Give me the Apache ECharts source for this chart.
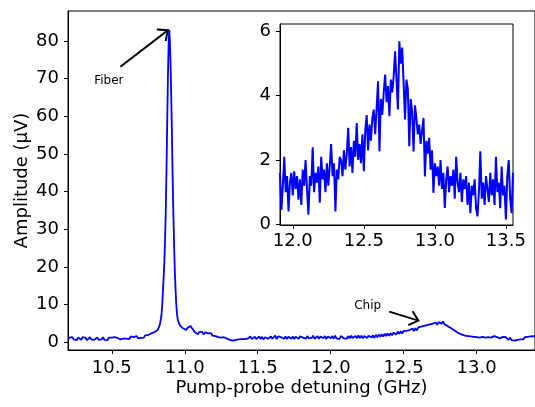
<!DOCTYPE html>
<html><head><meta charset="utf-8">
<script src="https://cdn.jsdelivr.net/npm/echarts@6/dist/echarts.min.js"></script>
<style>html,body{margin:0;padding:0;background:#fff}#c{width:535px;height:407px}</style>
</head><body><div id="c"></div>
<script>
// ---- Main trace: left baseline, sampled every 0.01 GHz from 10.20 GHz
const leftStartGHz = 10.20;
const leftStepGHz = 0.01;
const leftAmp = [
  0.6, 1.2, 0.8, 1.3, 0.7, 1.1, 0.5, 1.2, 0.9, 0.6,
  1.3, 0.8, 1.1, 0.5, 1.0, 1.3, 0.7, 1.2, 0.6, 0.9,
  1.2, 0.6, 1.0, 0.7, 1.3, 0.6, 1.1, 0.5, 1.2, 0.8,
  1.2, 0.7, 1.3, 0.8, 1.1, 1.4, 0.7, 1.2, 0.9, 1.3,
  0.9, 1.4, 0.8, 1.5, 1.0, 1.3, 0.9, 1.6, 1.0, 1.4,
  1.1, 1.6, 1.2, 1.8, 1.4, 1.9, 1.7, 2.3, 1.9, 2.6
];
// ---- Fiber peak region (finer sampling)
const peakFreq = [10.80, 10.81, 10.82, 10.83, 10.84, 10.845, 10.85, 10.855, 10.86, 10.865, 10.87, 10.875, 10.88, 10.885, 10.89, 10.894, 10.898, 10.902, 10.907, 10.912, 10.917, 10.922, 10.927, 10.932, 10.937, 10.942, 10.947, 10.952, 10.96, 10.97, 10.98, 10.99, 11.00];
const peakAmp  = [2.7, 3.1, 3.7, 4.7, 7.0, 9.5, 13, 17, 21, 27, 35, 46, 59, 71, 80, 83, 80, 75, 66, 56, 44, 34, 26, 19, 14, 10, 7.5, 6.0, 5.0, 4.3, 3.9, 3.6, 3.5];
// ---- Right part, sampled every 0.01 GHz from 11.01 GHz
const rightStartGHz = 11.01;
const rightStepGHz = 0.01;
const rightAmp = [
  3.2, 3.8, 3.6, 4.3, 3.7, 3.5, 2.6, 2.7, 2.1, 2.7,
  2.3, 2.7, 2.0, 2.6, 2.1, 2.3, 1.9, 2.4, 1.7, 2.2,
  1.6, 1.9, 1.3, 1.8, 1.2, 1.5, 1.3, 1.4, 0.9, 1.2,
  0.6, 1.0, 0.4, 0.9, 0.6, 0.8, 0.7, 1.0, 0.8, 1.2,
  0.8, 1.3, 0.9, 1.2, 1.5, 0.8, 1.1, 1.4, 0.8, 1.3,
  1.5, 0.8, 1.4, 0.7, 1.3, 1.6, 0.9, 1.2, 1.5, 0.9,
  1.4, 1.7, 0.8, 1.5, 1.0, 1.3, 1.6, 0.9, 1.5, 0.8,
  1.4, 1.6, 0.9, 1.5, 0.8, 1.4, 1.7, 0.9, 1.5, 1.0,
  1.2, 1.5, 0.9, 1.6, 1.0, 1.3, 1.1, 1.7, 0.9, 1.4,
  1.6, 0.9, 1.5, 1.8, 1.0, 1.6, 0.8, 1.5, 1.7, 1.0,
  1.6, 0.9, 1.7, 1.0, 1.5, 0.8, 1.6, 1.8, 1.0, 1.5,
  0.9, 1.6, 1.0, 1.7, 1.1, 1.4, 1.6, 1.0, 1.8, 1.1,
  1.7, 1.0, 1.6, 1.8, 1.1, 1.7, 2.0, 1.2, 1.8, 1.1,
  1.9, 1.3, 2.0, 1.4, 2.1, 1.5, 2.2, 1.6, 2.3, 1.7,
  2.4, 1.8, 2.5, 2.3, 2.0, 2.8, 2.2, 2.9, 2.3, 3.0,
  2.7, 3.0, 2.9, 3.2, 3.0, 3.6, 2.9, 3.7, 3.1, 3.9,
  3.4, 4.1, 3.6, 4.3, 3.8, 4.5, 4.0, 4.7, 4.2, 4.9,
  4.4, 5.2, 4.6, 5.3, 5.6, 4.9, 5.5, 4.7, 4.8, 4.3,
  4.4, 3.8, 3.9, 3.3, 3.4, 2.8, 2.9, 2.3, 2.5, 2.0,
  2.2, 1.7, 1.9, 1.6, 1.8, 1.5, 1.7, 1.4, 1.6, 1.3,
  1.5, 1.2, 1.6, 1.4, 1.5, 1.2, 1.4, 1.3, 1.6, 1.2,
  1.4, 1.6, 1.1, 1.3, 1.5, 1.0, 1.2, 1.4, 0.9, 1.3,
  1.1, 0.6, 1.2, 0.5, 1.0, 0.4, 0.9, 0.6, 1.0, 0.7,
  1.1, 0.7, 1.3, 0.9, 1.4, 1.0, 1.5, 1.1, 1.6, 1.3
];
// ---- Inset trace (chip resonance), sampled every 0.01 GHz from 11.91 GHz
const insetStartGHz = 11.91;
const insetStepGHz = 0.01;
const insetAmp = [
  1.6, 0.45, 1.2, 2.1, 1.0, 1.5, 0.4, 1.3, 1.6, 0.9,
  1.65, 1.1, 1.5, 0.77, 1.4, 0.6, 1.7, 1.2, 2.0, 1.1,
  0.3, 1.5, 1.2, 2.4, 1.0, 1.6, 1.3, 1.8, 0.67, 2.1,
  1.4, 1.7, 1.0, 1.9, 1.2, 1.8, 2.5, 1.5, 1.9, 0.4,
  1.7, 1.4, 2.1, 2.0, 1.5, 2.3, 1.7, 2.2, 3.0, 1.8,
  2.4, 1.6, 2.6, 2.1, 3.15, 2.0, 2.5, 1.9, 2.8, 1.65,
  2.9, 3.4, 2.3, 3.1, 2.6, 3.3, 3.57, 2.8, 3.6, 4.45,
  2.27, 3.9, 3.4, 4.1, 4.66, 3.8, 4.3, 3.36, 4.5, 4.1,
  4.6, 5.38, 4.5, 3.57, 5.69, 5.0, 5.5, 4.4, 3.26, 4.5,
  4.2, 2.43, 3.9, 3.5, 2.27, 3.7, 3.3, 2.8, 3.1, 2.5,
  2.9, 3.31, 1.49, 2.6, 2.2, 2.69, 1.7, 2.3, 0.98, 1.9,
  1.5, 1.8, 1.2, 2.0, 1.1, 1.6, 0.51, 1.4, 1.8, 1.0,
  1.5, 1.2, 1.7, 0.8, 2.1, 1.3, 1.0, 1.6, 0.7, 1.4,
  1.1, 1.5, 0.6, 1.3, 0.35, 1.2, 0.9, 1.4, 0.5, 0.25,
  1.0, 2.27, 0.8, 1.3, 0.6, 1.5, 1.1, 0.7, 1.6, 0.9,
  1.4, 0.6, 2.1, 1.0, 1.3, 0.5, 1.8, 0.9, 1.2, 0.15,
  1.5, 2.0, 0.8, 0.35, 1.6
];
// ---- Ticks
const mainXTicks = [10.5, 11.0, 11.5, 12.0, 12.5, 13.0];
const mainYTicks = [0, 10, 20, 30, 40, 50, 60, 70, 80];
const insetXTicks = [12.0, 12.5, 13.0, 13.5];
const insetYTicks = [0, 2, 4, 6];
// ---- Annotations (data coordinates of main axes)
const annotations = [
  { text: 'Fiber', textAt: [10.48, 69.5], tail: [10.559, 73.2], tip: [10.884, 82.9] },
  { text: 'Chip',  textAt: [12.253, 9.6], tail: [12.401, 8.1], tip: [12.601, 5.7] }
];

function sampled(start, step, amps) {
  return amps.map((a, i) => [+(start + i * step).toFixed(3), a]);
}
const mainData = sampled(leftStartGHz, leftStepGHz, leftAmp)
  .concat(peakFreq.map((f, i) => [f, peakAmp[i]]))
  .concat(sampled(rightStartGHz, rightStepGHz, rightAmp));
const insetData = sampled(insetStartGHz, insetStepGHz, insetAmp);

const FONT = 'DejaVu Sans';
const black = '#000';
function axisCommon(ticks, fmt, margin) {
  return {
    axisLine: { show: true, onZero: false, lineStyle: { color: black, width: 1 } },
    axisTick: { show: true, inside: false, length: 4, lineStyle: { color: black, width: 1 }, customValues: ticks },
    axisLabel: { show: true, color: black, fontFamily: FONT, fontSize: 18, margin: margin, customValues: ticks, formatter: fmt },
    splitLine: { show: false }
  };
}
const f1 = v => Number(v).toFixed(1);
const f0 = v => String(Math.round(v));

const chart = echarts.init(document.getElementById('c'), null, { renderer: 'canvas' });
chart.setOption({
  animation: false,
  backgroundColor: '#fff',
  grid: [
    { left: 68, top: 11, right: -2, bottom: 57, show: true, borderColor: black, borderWidth: 1, backgroundColor: 'transparent' },
    { left: 280, top: 24, right: 22, bottom: 182, show: true, borderColor: black, borderWidth: 1, backgroundColor: '#fff' }
  ],
  xAxis: [
    Object.assign({ type: 'value', gridIndex: 0, min: 10.2, max: 13.4,
      name: 'Pump-probe detuning (GHz)', nameLocation: 'middle', nameGap: 29, nameMoveOverlap: false,
      nameTextStyle: { color: black, fontFamily: FONT, fontSize: 18 } }, axisCommon(mainXTicks, f1, 9)),
    Object.assign({ type: 'value', gridIndex: 1, min: 11.91, max: 13.55 }, axisCommon(insetXTicks, f1, 7))
  ],
  yAxis: [
    Object.assign({ type: 'value', gridIndex: 0, min: -2.1, max: 88,
      name: 'Amplitude (μV)', nameLocation: 'middle', nameGap: 37, nameRotate: 90, nameMoveOverlap: false,
      nameTextStyle: { color: black, fontFamily: FONT, fontSize: 18 } }, axisCommon(mainYTicks, f0, 9)),
    Object.assign({ type: 'value', gridIndex: 1, min: -0.02, max: 6.23 }, axisCommon(insetYTicks, f0, 9))
  ],
  series: [
    { type: 'line', xAxisIndex: 0, yAxisIndex: 0, data: mainData, showSymbol: false, symbol: 'none',
      lineStyle: { color: '#0000ff', width: 1.8 }, z: 3 },
    { type: 'line', xAxisIndex: 1, yAxisIndex: 1, data: insetData, showSymbol: false, symbol: 'none',
      lineStyle: { color: '#0000ff', width: 2.0 }, z: 5 }
  ]
});

function drawAnnotations() {
  const els = [];
  annotations.forEach(a => {
    const t = chart.convertToPixel({ gridIndex: 0 }, a.textAt);
    const p0 = chart.convertToPixel({ gridIndex: 0 }, a.tail);
    const p1 = chart.convertToPixel({ gridIndex: 0 }, a.tip);
    els.push({ type: 'text', x: t[0], y: t[1], z: 20,
      style: { text: a.text, fill: black, font: '12px "DejaVu Sans"', align: 'center', verticalAlign: 'middle' } });
    els.push({ type: 'line', z: 20, shape: { x1: p0[0], y1: p0[1], x2: p1[0], y2: p1[1] },
      style: { stroke: black, lineWidth: 2 } });
    const ang = Math.atan2(p0[1] - p1[1], p0[0] - p1[0]);
    const L = 11, da = 0.72;
    els.push({ type: 'polyline', z: 20, shape: { points: [
      [p1[0] + L * Math.cos(ang + da), p1[1] + L * Math.sin(ang + da)],
      [p1[0], p1[1]],
      [p1[0] + L * Math.cos(ang - da), p1[1] + L * Math.sin(ang - da)]
    ] }, style: { stroke: black, lineWidth: 2, fill: null, lineJoin: 'miter' } });
  });
  chart.setOption({ graphic: els });
}
drawAnnotations();
</script>
</body></html>
